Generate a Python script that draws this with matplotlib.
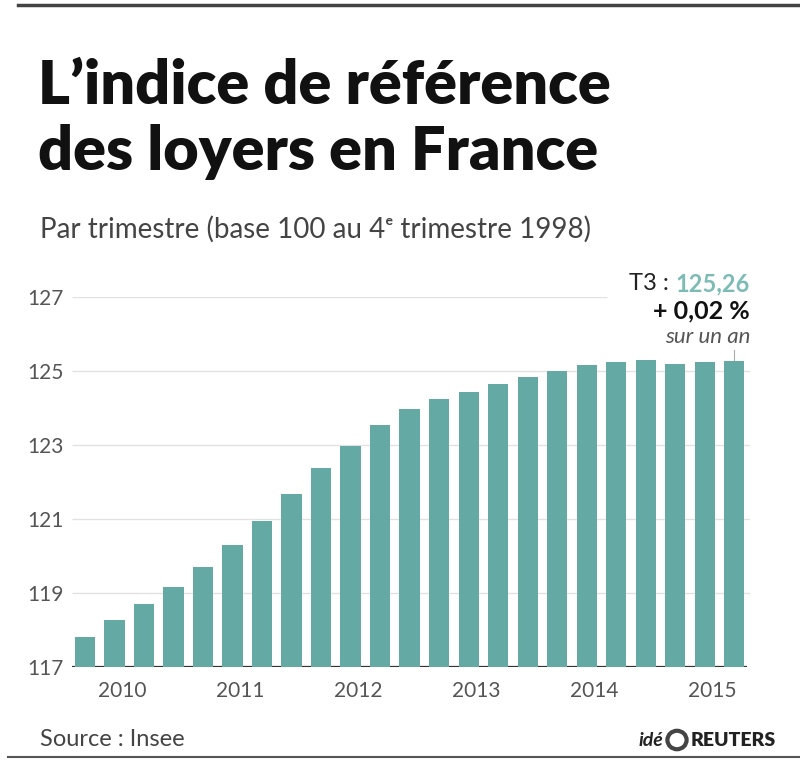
import matplotlib.pyplot as plt
from matplotlib.patches import Circle

# IRL, base 100 au T4 1998, T1 2010 -> T3 2015
values = [117.81, 118.26, 118.70, 119.17,
          119.69, 120.31, 120.95, 121.68,
          122.37, 122.96, 123.55, 123.97,
          124.25, 124.44, 124.66, 124.83,
          125.00, 125.15, 125.24, 125.29,
          125.19, 125.25, 125.26]
years = ['2010', '2011', '2012', '2013', '2014', '2015']
yticks = [117, 119, 121, 123, 125, 127]

bar_color = '#64a9a3'
txt_grey = '#555555'
font = ['Lato', 'DejaVu Sans']

fig = plt.figure(figsize=(8, 7.69), dpi=100)
ax = fig.add_axes([72/800, 1 - 667/769, (750 - 72)/800, (667 - 297)/769])

x = list(range(len(values)))
xmin, xmax = -0.44, len(values) - 1 + 0.54
ax.bar(x, [v - 117 for v in values], bottom=117, width=0.68,
       color=bar_color, zorder=3)
ax.hlines(yticks[1:-1], xmin, xmax, color='#e2e2e2', lw=1, zorder=1)
# la ligne du haut s'arrête avant l'annotation
ax.hlines(yticks[-1], xmin, 17.7, color='#e2e2e2', lw=1, zorder=1)
ax.hlines(117, xmin, len(values) - 1 + 0.45, color='#333333', lw=1.6, zorder=2)
ax.set_xlim(xmin, xmax)
ax.set_ylim(117, 127)

ax.set_yticks(yticks)
ax.set_yticklabels([str(t) for t in yticks], family=font, fontsize=15,
                   color=txt_grey)
ax.set_xticks([4 * i + 1.25 for i in range(len(years))])
ax.set_xticklabels(years, family=font, fontsize=15, color=txt_grey)
ax.tick_params(axis='both', length=0)
ax.tick_params(axis='y', pad=6)
ax.tick_params(axis='x', pad=10)
for s in ax.spines.values():
    s.set_visible(False)

# annotation du dernier point
last = len(values) - 1
ax.plot([last, last], [values[-1], values[-1] + 0.3], color='#aaaaaa',
        lw=0.8, zorder=2, clip_on=False)
fig.text(750/800, 1 - 284/769, '125,26', ha='right', va='center',
         family=font, fontsize=17, fontweight='bold', color='#7dbcb4')
fig.text(675/800, 1 - 284/769, 'T3 : ', ha='right', va='center',
         family=font, fontsize=17, color='#222222')
fig.text(750/800, 1 - 311/769, '+ 0,02 %', ha='right', va='center',
         family=font, fontsize=18, fontweight='bold', color='#111111')
fig.text(750/800, 1 - 337/769, 'sur un an', ha='right', va='center',
         family=font, fontsize=16, style='italic', color='#555555')

# titre
fig.text(38/800, 1 - 86/769, 'L\u2019indice de référence', ha='left',
         va='center', family=font, fontsize=44, fontweight='heavy',
         color='#111111')
fig.text(38/800, 1 - 152/769, 'des loyers en France', ha='left',
         va='center', family=font, fontsize=44, fontweight='heavy',
         color='#111111')
fig.text(40/800, 1 - 229/769, 'Par trimestre (base 100 au 4\u1d49 trimestre 1998)',
         ha='left', va='center', family=font, fontsize=20,
         color='#444444')

fig.text(40/800, 1 - 740/769, 'Source : Insee', ha='left', va='center',
         family=font, fontsize=17, color='#444444')
fig.text(663/800, 1 - 740/769, 'idé', ha='right', va='center', family=font,
         fontsize=14, style='italic', fontweight='bold', color='#222222')
fig.patches.append(Circle((677/800, 1 - 740/769), 0.012, transform=fig.transFigure,
                          facecolor='white', edgecolor='#444444', lw=3))
fig.text(691/800, 1 - 740/769, 'REUTERS', ha='left', va='center', family=font,
         fontsize=14, fontweight='heavy', color='#222222')

# filets haut et bas
fig.add_artist(plt.Line2D([18/800, 1], [1 - 5/769, 1 - 5/769],
                          transform=fig.transFigure, color='#444444', lw=2.5))
fig.add_artist(plt.Line2D([8/800, 1], [1 - 757/769, 1 - 757/769],
                          transform=fig.transFigure, color='#555555', lw=1.5))

fig.savefig('out.png', dpi=100)
